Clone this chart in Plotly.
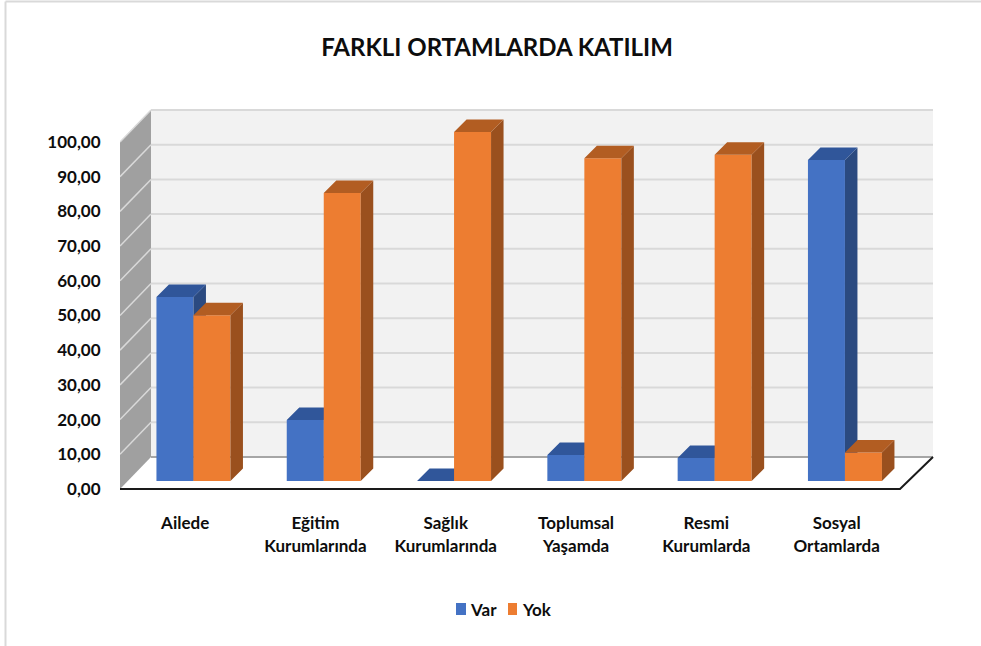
import plotly.graph_objects as go

# values
CATEGORIES = ["Ailede", "Eğitim<br>Kurumlarında", "Sağlık<br>Kurumlarında",
              "Toplumsal<br>Yaşamda", "Resmi<br>Kurumlarda", "Sosyal<br>Ortamlarda"]
VAR = [53.0, 17.6, 0.0, 7.5, 6.6, 92.5]
YOK = [47.8, 83.0, 100.6, 93.0, 94.0, 8.2]
Y_TICKS = [0, 10, 20, 30, 40, 50, 60, 70, 80, 90, 100]

TITLE = "FARKLI ORTAMLARDA KATILIM"

# colours
BLUE, BLUE_SIDE, BLUE_TOP = "#4472C4", "#2B4A80", "#30569A"
ORANGE, ORANGE_SIDE, ORANGE_TOP = "#ED7D31", "#9A501E", "#B25D22"
WALL_BACK = "#F2F2F2"
WALL_LEFT = "#A0A0A0"
GRID = "#D9D9D9"
INK = "#0D0D0D"
FONT = "Lato, Open Sans, sans-serif"

# figure layout, px
W, H = 981, 646
LEFT, RIGHT, TOP, BOTTOM = 120, 41, 100, 146
X_PX = 130.3
Y_PX = 3.47
X_RANGE = [-0.5, -0.5 + (W - LEFT - RIGHT) / X_PX]
Y_RANGE = [-(H - BOTTOM - 489) / Y_PX, (489 - TOP) / Y_PX]

# fake 3D: how far the box recedes, in axis units
ROOM_X1 = -0.5 + 780 / X_PX
ROOM_DX_L, ROOM_DX_R, ROOM_DY = 31 / X_PX, 33 / X_PX, 32 / Y_PX
BAR_LIFT_X, BAR_LIFT_Y = 8.3 / X_PX, 8 / Y_PX
BAR_DX, BAR_DY = 12.5 / X_PX, 12.5 / Y_PX
BAR_W = 37 / X_PX


def paper_x(px):
    return (px - LEFT) / (W - LEFT - RIGHT)


def paper_y(px):
    return (H - BOTTOM - px) / (H - TOP - BOTTOM)


def _bar_traces(values, name, color, side, top, xa, ya, shift):
    centers = [i + BAR_LIFT_X + shift for i in range(len(values))]
    front = go.Bar(
        x=centers, y=values, base=BAR_LIFT_Y, width=BAR_W, name=name,
        marker=dict(color=color, line=dict(width=0)),
        xaxis=xa, yaxis=ya, showlegend=False,
    )
    side_x, side_y, top_x, top_y = [], [], [], []
    for c, v in zip(centers, values):
        x0, x1 = c - BAR_W / 2, c + BAR_W / 2
        y1 = BAR_LIFT_Y + v
        side_x += [x1, x1 + BAR_DX, x1 + BAR_DX, x1, x1, None]
        side_y += [BAR_LIFT_Y, BAR_LIFT_Y + BAR_DY, y1 + BAR_DY, y1, BAR_LIFT_Y, None]
        top_x += [x0, x0 + BAR_DX, x1 + BAR_DX, x1, x0, None]
        top_y += [y1, y1 + BAR_DY, y1 + BAR_DY, y1, y1, None]
    faces = [
        go.Scatter(x=fx, y=fy, mode="lines", fill="toself", fillcolor=fc,
                   line=dict(width=0, color=fc), hoverinfo="skip",
                   showlegend=False, xaxis=xa, yaxis=ya)
        for fx, fy, fc in [(side_x, side_y, side), (top_x, top_y, top)]
    ]
    return [front] + faces


def _room_shapes():
    x0, x1 = -0.5, ROOM_X1
    y1 = 100
    bx0, bx1 = x0 + ROOM_DX_L, x1 + ROOM_DX_R
    shapes = [
        # back wall, left wall
        dict(type="rect", x0=bx0, x1=bx1, y0=ROOM_DY, y1=y1 + ROOM_DY,
             fillcolor=WALL_BACK, line_width=0, layer="below"),
        dict(type="path", fillcolor=WALL_LEFT, line_width=0, layer="below",
             path=f"M{x0},0 L{bx0},{ROOM_DY} L{bx0},{y1 + ROOM_DY} L{x0},{y1} Z"),
    ]
    for t in Y_TICKS:
        shapes.append(dict(type="line", x0=bx0, x1=bx1, y0=t + ROOM_DY, y1=t + ROOM_DY,
                           line=dict(color="#A6A6A6" if t == 0 else GRID, width=2),
                           layer="below"))
        if t > 0:
            shapes.append(dict(type="line", x0=x0, x1=bx0, y0=t, y1=t + ROOM_DY,
                               line=dict(color=GRID, width=1.5), layer="below"))
    # floor edges
    shapes.append(dict(type="path", line=dict(color="#1A1A1A", width=2), layer="below",
                       path=f"M{x0},0 L{x1},0 L{bx1},{ROOM_DY}"))
    # frame of the screenshot
    for x_a, x_b, y_a, y_b in [(5.5, W, 1.5, 1.5), (5.5, 5.5, 1.5, H)]:
        shapes.append(dict(type="line", xref="paper", yref="paper",
                           x0=paper_x(x_a), x1=paper_x(x_b), y0=paper_y(y_a), y1=paper_y(y_b),
                           line=dict(color=GRID, width=2)))
    # legend swatches
    for x_a, x_b, c in [(456, 466, BLUE), (508, 517, ORANGE)]:
        shapes.append(dict(type="rect", xref="paper", yref="paper",
                           x0=paper_x(x_a), x1=paper_x(x_b), y0=paper_y(603), y1=paper_y(615),
                           fillcolor=c, line_width=0))
    return shapes


def _legend_text(px, text):
    return dict(xref="paper", yref="paper", x=paper_x(px), y=paper_y(609), text=text,
                showarrow=False, xanchor="left", yanchor="middle",
                font=dict(size=17, color=INK, family=FONT, weight=700))


fig = go.Figure()
for tr in _bar_traces(VAR, "Var", BLUE, BLUE_SIDE, BLUE_TOP, "x", "y", -BAR_W / 2):
    fig.add_trace(tr)
# Yok sits on an overlay axis pair so its front faces cover the Var side faces
for tr in _bar_traces(YOK, "Yok", ORANGE, ORANGE_SIDE, ORANGE_TOP, "x2", "y2", BAR_W / 2):
    fig.add_trace(tr)

fig.update_layout(
    width=W, height=H,
    margin=dict(l=LEFT, r=RIGHT, t=TOP, b=BOTTOM, pad=0),
    paper_bgcolor="white",
    plot_bgcolor="rgba(0,0,0,0)",
    barmode="overlay",
    separators=",.",
    showlegend=False,
    title=dict(text=TITLE, x=497 / W, y=1 - 48 / H, xanchor="center", yanchor="middle",
               font=dict(size=24, color=INK, family=FONT, weight=700)),
    xaxis=dict(range=X_RANGE, tickvals=list(range(len(CATEGORIES))), ticktext=CATEGORIES,
               tickangle=0, showgrid=False, zeroline=False, showline=False,
               ticks="outside", ticklen=8, tickcolor="rgba(0,0,0,0)",
               tickfont=dict(size=17, color=INK, family=FONT, weight=700)),
    yaxis=dict(range=Y_RANGE, tickvals=Y_TICKS, tickformat=".2f",
               showgrid=False, zeroline=False, showline=False,
               ticks="outside", ticklen=15, tickcolor="rgba(0,0,0,0)",
               tickfont=dict(size=17, color=INK, family=FONT, weight=700)),
    xaxis2=dict(range=X_RANGE, overlaying="x", visible=False),
    yaxis2=dict(range=Y_RANGE, overlaying="y", visible=False),
    shapes=_room_shapes(),
    annotations=[_legend_text(468, "Var"), _legend_text(520, "Yok")],
)

fig.write_html("out.html", config=dict(displayModeBar=False),
               post_script="document.body.style.margin='0';")
